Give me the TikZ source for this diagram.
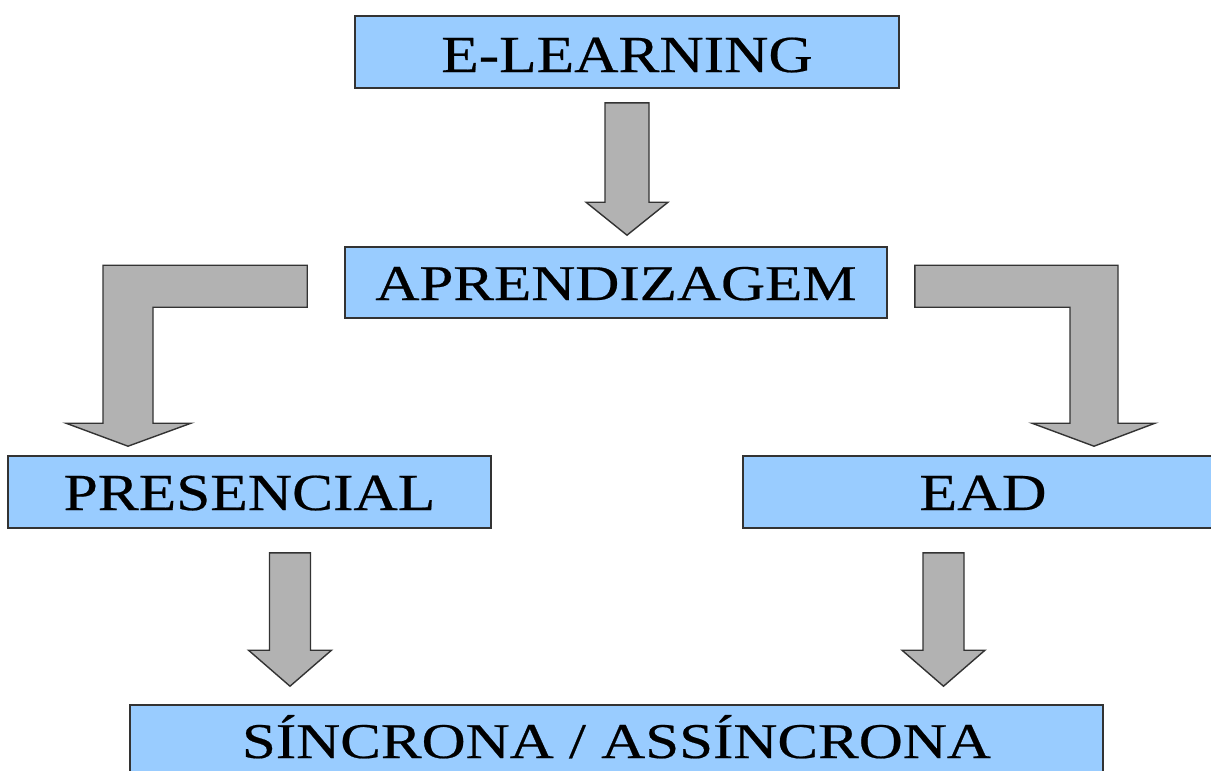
\documentclass[tikz,border=0pt]{standalone}
\usepackage{fontspec}
\setmainfont{Liberation Serif}
\newfontfamily\heavyserif{Liberation Serif}[FakeBold=0.4]
\usetikzlibrary{calc}
\definecolor{boxblue}{HTML}{99CCFF}
\definecolor{arrgray}{HTML}{B2B2B2}
\definecolor{edgecol}{HTML}{333333}
\tikzset{
 box/.style={rectangle, draw=edgecol, line width=1.6pt, fill=boxblue, inner sep=0pt, text depth=0pt, text=black, font=\heavyserif},
 blk/.style={draw=edgecol, line width=1.4pt, fill=arrgray, line join=miter},
}
\newcommand\blkdown[5]{\draw[blk] let \p1=(#1), \p2=(#2) in
  (\x1-#3,\y1) -- (\x1+#3,\y1) -- (\x1+#3,\y2+#5) -- (\x1+#4,\y2+#5) -- (\x1,\y2)
  -- (\x1-#4,\y2+#5) -- (\x1-#3,\y2+#5) -- cycle;}
\begin{document}
\begin{tikzpicture}[x=1pt,y=-1pt]
\useasboundingbox (0,0) rectangle (1211,771);
\clip (0,0) rectangle (1211,771);
\fill[white] (0,0) rectangle (1211,771);

\node[box, minimum width=544pt, minimum height=72pt, text height=34pt] (elearn) at (627,52)
  {\raisebox{-3pt}{\fontsize{52}{60}\selectfont\scalebox{1.18}[1]{E-LEARNING}}};
\node[box, minimum width=542pt, minimum height=71pt, text height=33pt] (aprend) at (616,282.5)
  {\raisebox{-1pt}{\fontsize{50}{58}\selectfont\scalebox{1.22}[1]{APRENDIZAGEM}}};
\node[box, minimum width=483pt, minimum height=72pt, text height=34pt] (pres) at (249.5,492)
  {\raisebox{-1pt}{\fontsize{52}{60}\selectfont\scalebox{1.18}[1]{PRESENCIAL}}};
\node[box, minimum width=480pt, minimum height=72pt, text height=34pt] (ead) at (983,492)
  {\raisebox{-1pt}{\fontsize{52}{60}\selectfont\scalebox{1.19}[1]{EAD}}};
\node[box, minimum width=973pt, minimum height=78pt, text height=33pt] (sinc) at (616.5,744)
  {\raisebox{2.5pt}{\fontsize{50}{58}\selectfont\scalebox{1.22}[1]{SÍNCRONA / ASSÍNCRONA}}};

% E-LEARNING -> APRENDIZAGEM
\coordinate (a1s) at ($(elearn.south)+(0,14)$);
\coordinate (a1t) at ($(a1s |- aprend.north)+(0,-11)$);
\blkdown{a1s}{a1t}{22pt}{41pt}{33pt}

% APRENDIZAGEM -> PRESENCIAL
\coordinate (Ls) at ($(aprend.north west)+(-37,19)$);
\coordinate (Lt) at ($(pres.north)+(-121.5,-9)$);
\draw[blk] let \p1=(Ls), \p2=(Lt) in
  (\x1,\y1) -- (\x2-25pt,\y1) -- (\x2-25pt,\y2+23pt) -- (\x2-62pt,\y2+23pt) -- (\x2,\y2)
  -- (\x2+63pt,\y2+23pt) -- (\x2+25pt,\y2+23pt) -- (\x2+25pt,\y1-42pt) -- (\x1,\y1-42pt) -- cycle;

% APRENDIZAGEM -> EAD
\coordinate (Rs) at ($(aprend.north east)+(27,19)$);
\coordinate (Rt) at ($(ead.north)+(111,-9)$);
\draw[blk] let \p1=(Rs), \p2=(Rt) in
  (\x1,\y1) -- (\x2+24pt,\y1) -- (\x2+24pt,\y2+23pt) -- (\x2+61pt,\y2+23pt) -- (\x2,\y2)
  -- (\x2-62pt,\y2+23pt) -- (\x2-24pt,\y2+23pt) -- (\x2-24pt,\y1-42pt) -- (\x1,\y1-42pt) -- cycle;

% PRESENCIAL -> SINCRONA
\coordinate (a3s) at ($(pres.south)+(40.5,24)$);
\coordinate (a3t) at ($(a3s |- sinc.north)+(0,-18)$);
\blkdown{a3s}{a3t}{20.5pt}{41.5pt}{36pt}

% EAD -> SINCRONA
\coordinate (a4s) at ($(ead.south)+(-39.5,24)$);
\coordinate (a4t) at ($(a4s |- sinc.north)+(0,-18)$);
\blkdown{a4s}{a4t}{20.5pt}{41.5pt}{36pt}
\end{tikzpicture}
\end{document}
